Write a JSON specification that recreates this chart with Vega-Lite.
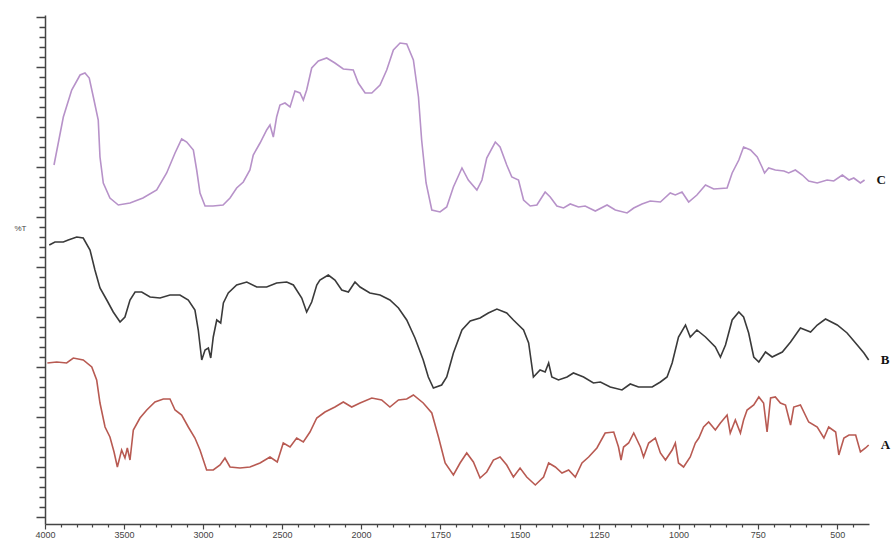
{
  "$schema": "https://vega.github.io/schema/vega-lite/v6.json",
  "autosize": {"type": "none"},
  "padding": {"left": 45, "top": 15, "right": 27, "bottom": 15},
  "width": 824,
  "height": 509,
  "background": "white",
  "config": {"view": {"stroke": null}},
  "data": {"values": [
    {"s":"C","wn":3943,"t":352},{"s":"C","wn":3884,"t":400},{"s":"C","wn":3831,"t":427},{"s":"C","wn":3778,"t":442},{"s":"C","wn":3747,"t":444},{"s":"C","wn":3720,"t":439},{"s":"C","wn":3694,"t":420},{"s":"C","wn":3663,"t":397},{"s":"C","wn":3652,"t":360},{"s":"C","wn":3631,"t":334},{"s":"C","wn":3589,"t":319},{"s":"C","wn":3536,"t":312},{"s":"C","wn":3462,"t":314},{"s":"C","wn":3380,"t":319},{"s":"C","wn":3293,"t":327},{"s":"C","wn":3230,"t":344},{"s":"C","wn":3177,"t":364},{"s":"C","wn":3135,"t":378},{"s":"C","wn":3103,"t":375},{"s":"C","wn":3061,"t":367},{"s":"C","wn":3040,"t":347},{"s":"C","wn":3019,"t":324},{"s":"C","wn":2987,"t":311},{"s":"C","wn":2937,"t":311},{"s":"C","wn":2873,"t":312},{"s":"C","wn":2829,"t":319},{"s":"C","wn":2787,"t":329},{"s":"C","wn":2745,"t":335},{"s":"C","wn":2703,"t":347},{"s":"C","wn":2682,"t":362},{"s":"C","wn":2639,"t":374},{"s":"C","wn":2597,"t":387},{"s":"C","wn":2576,"t":392},{"s":"C","wn":2555,"t":380},{"s":"C","wn":2534,"t":400},{"s":"C","wn":2513,"t":412},{"s":"C","wn":2481,"t":414},{"s":"C","wn":2449,"t":410},{"s":"C","wn":2418,"t":426},{"s":"C","wn":2386,"t":424},{"s":"C","wn":2365,"t":417},{"s":"C","wn":2344,"t":427},{"s":"C","wn":2312,"t":449},{"s":"C","wn":2270,"t":456},{"s":"C","wn":2217,"t":459},{"s":"C","wn":2165,"t":454},{"s":"C","wn":2112,"t":448},{"s":"C","wn":2049,"t":447},{"s":"C","wn":2017,"t":434},{"s":"C","wn":1987,"t":424},{"s":"C","wn":1966,"t":424},{"s":"C","wn":1940,"t":432},{"s":"C","wn":1919,"t":447},{"s":"C","wn":1898,"t":467},{"s":"C","wn":1877,"t":474},{"s":"C","wn":1856,"t":473},{"s":"C","wn":1835,"t":457},{"s":"C","wn":1819,"t":420},{"s":"C","wn":1809,"t":377},{"s":"C","wn":1795,"t":334},{"s":"C","wn":1777,"t":307},{"s":"C","wn":1751,"t":305},{"s":"C","wn":1730,"t":310},{"s":"C","wn":1709,"t":330},{"s":"C","wn":1682,"t":349},{"s":"C","wn":1662,"t":337},{"s":"C","wn":1635,"t":327},{"s":"C","wn":1619,"t":337},{"s":"C","wn":1604,"t":359},{"s":"C","wn":1577,"t":375},{"s":"C","wn":1562,"t":370},{"s":"C","wn":1541,"t":352},{"s":"C","wn":1525,"t":340},{"s":"C","wn":1504,"t":337},{"s":"C","wn":1488,"t":317},{"s":"C","wn":1467,"t":311},{"s":"C","wn":1446,"t":312},{"s":"C","wn":1420,"t":325},{"s":"C","wn":1404,"t":320},{"s":"C","wn":1383,"t":311},{"s":"C","wn":1362,"t":309},{"s":"C","wn":1341,"t":313},{"s":"C","wn":1315,"t":310},{"s":"C","wn":1294,"t":311},{"s":"C","wn":1262,"t":306},{"s":"C","wn":1225,"t":312},{"s":"C","wn":1199,"t":307},{"s":"C","wn":1162,"t":304},{"s":"C","wn":1141,"t":309},{"s":"C","wn":1115,"t":313},{"s":"C","wn":1089,"t":316},{"s":"C","wn":1057,"t":315},{"s":"C","wn":1026,"t":324},{"s":"C","wn":1010,"t":322},{"s":"C","wn":989,"t":325},{"s":"C","wn":968,"t":315},{"s":"C","wn":942,"t":322},{"s":"C","wn":915,"t":332},{"s":"C","wn":889,"t":328},{"s":"C","wn":847,"t":329},{"s":"C","wn":831,"t":344},{"s":"C","wn":810,"t":357},{"s":"C","wn":795,"t":370},{"s":"C","wn":773,"t":367},{"s":"C","wn":752,"t":360},{"s":"C","wn":737,"t":350},{"s":"C","wn":729,"t":344},{"s":"C","wn":716,"t":349},{"s":"C","wn":695,"t":347},{"s":"C","wn":668,"t":346},{"s":"C","wn":653,"t":344},{"s":"C","wn":632,"t":347},{"s":"C","wn":610,"t":342},{"s":"C","wn":590,"t":336},{"s":"C","wn":563,"t":334},{"s":"C","wn":532,"t":337},{"s":"C","wn":511,"t":336},{"s":"C","wn":484,"t":342},{"s":"C","wn":463,"t":337},{"s":"C","wn":448,"t":339},{"s":"C","wn":427,"t":334},{"s":"C","wn":414,"t":337},
    {"s":"B","wn":3973,"t":272},{"s":"B","wn":3937,"t":275},{"s":"B","wn":3884,"t":275},{"s":"B","wn":3853,"t":277},{"s":"B","wn":3799,"t":280},{"s":"B","wn":3758,"t":279},{"s":"B","wn":3715,"t":267},{"s":"B","wn":3684,"t":247},{"s":"B","wn":3652,"t":229},{"s":"B","wn":3609,"t":217},{"s":"B","wn":3568,"t":205},{"s":"B","wn":3525,"t":195},{"s":"B","wn":3494,"t":200},{"s":"B","wn":3462,"t":217},{"s":"B","wn":3430,"t":225},{"s":"B","wn":3388,"t":225},{"s":"B","wn":3335,"t":220},{"s":"B","wn":3272,"t":219},{"s":"B","wn":3209,"t":222},{"s":"B","wn":3146,"t":222},{"s":"B","wn":3093,"t":217},{"s":"B","wn":3051,"t":207},{"s":"B","wn":3030,"t":187},{"s":"B","wn":3008,"t":157},{"s":"B","wn":2987,"t":167},{"s":"B","wn":2966,"t":169},{"s":"B","wn":2951,"t":159},{"s":"B","wn":2935,"t":180},{"s":"B","wn":2913,"t":197},{"s":"B","wn":2888,"t":194},{"s":"B","wn":2871,"t":214},{"s":"B","wn":2840,"t":224},{"s":"B","wn":2787,"t":232},{"s":"B","wn":2723,"t":235},{"s":"B","wn":2660,"t":230},{"s":"B","wn":2597,"t":230},{"s":"B","wn":2534,"t":234},{"s":"B","wn":2470,"t":235},{"s":"B","wn":2428,"t":232},{"s":"B","wn":2375,"t":219},{"s":"B","wn":2344,"t":205},{"s":"B","wn":2312,"t":215},{"s":"B","wn":2280,"t":232},{"s":"B","wn":2260,"t":237},{"s":"B","wn":2207,"t":242},{"s":"B","wn":2165,"t":237},{"s":"B","wn":2122,"t":227},{"s":"B","wn":2080,"t":225},{"s":"B","wn":2038,"t":235},{"s":"B","wn":2006,"t":230},{"s":"B","wn":1972,"t":224},{"s":"B","wn":1940,"t":222},{"s":"B","wn":1909,"t":217},{"s":"B","wn":1882,"t":209},{"s":"B","wn":1856,"t":197},{"s":"B","wn":1830,"t":179},{"s":"B","wn":1804,"t":157},{"s":"B","wn":1788,"t":140},{"s":"B","wn":1772,"t":129},{"s":"B","wn":1746,"t":132},{"s":"B","wn":1730,"t":140},{"s":"B","wn":1709,"t":164},{"s":"B","wn":1682,"t":187},{"s":"B","wn":1656,"t":196},{"s":"B","wn":1625,"t":199},{"s":"B","wn":1599,"t":204},{"s":"B","wn":1572,"t":208},{"s":"B","wn":1541,"t":204},{"s":"B","wn":1520,"t":197},{"s":"B","wn":1488,"t":187},{"s":"B","wn":1472,"t":174},{"s":"B","wn":1457,"t":140},{"s":"B","wn":1436,"t":147},{"s":"B","wn":1420,"t":145},{"s":"B","wn":1409,"t":154},{"s":"B","wn":1399,"t":140},{"s":"B","wn":1378,"t":137},{"s":"B","wn":1351,"t":140},{"s":"B","wn":1331,"t":144},{"s":"B","wn":1299,"t":140},{"s":"B","wn":1268,"t":134},{"s":"B","wn":1246,"t":135},{"s":"B","wn":1215,"t":130},{"s":"B","wn":1178,"t":127},{"s":"B","wn":1152,"t":133},{"s":"B","wn":1126,"t":130},{"s":"B","wn":1083,"t":130},{"s":"B","wn":1057,"t":135},{"s":"B","wn":1036,"t":140},{"s":"B","wn":1020,"t":154},{"s":"B","wn":1000,"t":180},{"s":"B","wn":978,"t":192},{"s":"B","wn":963,"t":180},{"s":"B","wn":942,"t":187},{"s":"B","wn":915,"t":180},{"s":"B","wn":884,"t":170},{"s":"B","wn":868,"t":160},{"s":"B","wn":852,"t":172},{"s":"B","wn":831,"t":197},{"s":"B","wn":810,"t":205},{"s":"B","wn":795,"t":200},{"s":"B","wn":779,"t":184},{"s":"B","wn":763,"t":160},{"s":"B","wn":747,"t":155},{"s":"B","wn":726,"t":165},{"s":"B","wn":705,"t":160},{"s":"B","wn":673,"t":165},{"s":"B","wn":647,"t":175},{"s":"B","wn":616,"t":189},{"s":"B","wn":584,"t":185},{"s":"B","wn":563,"t":192},{"s":"B","wn":537,"t":198},{"s":"B","wn":500,"t":192},{"s":"B","wn":469,"t":184},{"s":"B","wn":437,"t":172},{"s":"B","wn":416,"t":164},{"s":"B","wn":401,"t":157},
    {"s":"A","wn":3985,"t":154},{"s":"A","wn":3926,"t":155},{"s":"A","wn":3863,"t":154},{"s":"A","wn":3821,"t":159},{"s":"A","wn":3758,"t":157},{"s":"A","wn":3704,"t":150},{"s":"A","wn":3673,"t":137},{"s":"A","wn":3652,"t":114},{"s":"A","wn":3620,"t":90},{"s":"A","wn":3589,"t":80},{"s":"A","wn":3563,"t":65},{"s":"A","wn":3542,"t":50},{"s":"A","wn":3515,"t":67},{"s":"A","wn":3494,"t":59},{"s":"A","wn":3479,"t":69},{"s":"A","wn":3462,"t":57},{"s":"A","wn":3441,"t":87},{"s":"A","wn":3399,"t":99},{"s":"A","wn":3356,"t":107},{"s":"A","wn":3304,"t":115},{"s":"A","wn":3251,"t":118},{"s":"A","wn":3209,"t":118},{"s":"A","wn":3177,"t":107},{"s":"A","wn":3135,"t":102},{"s":"A","wn":3093,"t":90},{"s":"A","wn":3051,"t":79},{"s":"A","wn":3019,"t":67},{"s":"A","wn":2977,"t":47},{"s":"A","wn":2935,"t":47},{"s":"A","wn":2892,"t":52},{"s":"A","wn":2861,"t":59},{"s":"A","wn":2829,"t":50},{"s":"A","wn":2766,"t":49},{"s":"A","wn":2703,"t":50},{"s":"A","wn":2639,"t":54},{"s":"A","wn":2576,"t":60},{"s":"A","wn":2530,"t":55},{"s":"A","wn":2492,"t":74},{"s":"A","wn":2449,"t":70},{"s":"A","wn":2407,"t":79},{"s":"A","wn":2365,"t":75},{"s":"A","wn":2323,"t":85},{"s":"A","wn":2280,"t":99},{"s":"A","wn":2228,"t":105},{"s":"A","wn":2165,"t":110},{"s":"A","wn":2112,"t":115},{"s":"A","wn":2059,"t":110},{"s":"A","wn":2006,"t":114},{"s":"A","wn":1966,"t":119},{"s":"A","wn":1935,"t":117},{"s":"A","wn":1909,"t":110},{"s":"A","wn":1882,"t":117},{"s":"A","wn":1856,"t":118},{"s":"A","wn":1835,"t":122},{"s":"A","wn":1804,"t":114},{"s":"A","wn":1777,"t":104},{"s":"A","wn":1756,"t":80},{"s":"A","wn":1735,"t":54},{"s":"A","wn":1709,"t":42},{"s":"A","wn":1688,"t":54},{"s":"A","wn":1667,"t":64},{"s":"A","wn":1646,"t":55},{"s":"A","wn":1625,"t":39},{"s":"A","wn":1604,"t":45},{"s":"A","wn":1583,"t":57},{"s":"A","wn":1562,"t":60},{"s":"A","wn":1541,"t":52},{"s":"A","wn":1520,"t":40},{"s":"A","wn":1499,"t":49},{"s":"A","wn":1478,"t":40},{"s":"A","wn":1451,"t":32},{"s":"A","wn":1425,"t":40},{"s":"A","wn":1409,"t":54},{"s":"A","wn":1388,"t":50},{"s":"A","wn":1367,"t":44},{"s":"A","wn":1346,"t":47},{"s":"A","wn":1325,"t":40},{"s":"A","wn":1304,"t":54},{"s":"A","wn":1283,"t":60},{"s":"A","wn":1257,"t":69},{"s":"A","wn":1231,"t":84},{"s":"A","wn":1204,"t":85},{"s":"A","wn":1189,"t":70},{"s":"A","wn":1181,"t":57},{"s":"A","wn":1173,"t":70},{"s":"A","wn":1157,"t":74},{"s":"A","wn":1141,"t":84},{"s":"A","wn":1120,"t":70},{"s":"A","wn":1110,"t":60},{"s":"A","wn":1094,"t":74},{"s":"A","wn":1073,"t":79},{"s":"A","wn":1057,"t":64},{"s":"A","wn":1041,"t":57},{"s":"A","wn":1020,"t":67},{"s":"A","wn":1010,"t":74},{"s":"A","wn":1000,"t":54},{"s":"A","wn":984,"t":50},{"s":"A","wn":963,"t":60},{"s":"A","wn":947,"t":74},{"s":"A","wn":936,"t":79},{"s":"A","wn":921,"t":90},{"s":"A","wn":905,"t":95},{"s":"A","wn":884,"t":87},{"s":"A","wn":868,"t":94},{"s":"A","wn":847,"t":102},{"s":"A","wn":837,"t":84},{"s":"A","wn":821,"t":97},{"s":"A","wn":805,"t":84},{"s":"A","wn":795,"t":97},{"s":"A","wn":784,"t":107},{"s":"A","wn":763,"t":112},{"s":"A","wn":747,"t":120},{"s":"A","wn":732,"t":114},{"s":"A","wn":721,"t":85},{"s":"A","wn":710,"t":119},{"s":"A","wn":695,"t":120},{"s":"A","wn":679,"t":114},{"s":"A","wn":663,"t":112},{"s":"A","wn":647,"t":92},{"s":"A","wn":637,"t":110},{"s":"A","wn":616,"t":112},{"s":"A","wn":590,"t":95},{"s":"A","wn":563,"t":90},{"s":"A","wn":542,"t":79},{"s":"A","wn":527,"t":90},{"s":"A","wn":505,"t":85},{"s":"A","wn":495,"t":62},{"s":"A","wn":479,"t":79},{"s":"A","wn":463,"t":82},{"s":"A","wn":442,"t":82},{"s":"A","wn":427,"t":65},{"s":"A","wn":411,"t":69},{"s":"A","wn":401,"t":72}
  ]},
  "encoding": {
    "x": {
      "field": "wn", "type": "quantitative",
      "scale": {"domain": [4000, 2000, 400], "range": [0, 316, 824], "nice": false, "zero": false},
      "axis": {
        "title": null,
        "grid": false,
        "values": [4000,3900,3800,3700,3600,3500,3400,3300,3200,3100,3000,2900,2800,2700,2600,2500,2400,2300,2200,2100,2000,1950,1900,1850,1800,1750,1700,1650,1600,1550,1500,1450,1400,1350,1300,1250,1200,1150,1100,1050,1000,950,900,850,800,750,700,650,600,550,500,450],
        "labelExpr": "((datum.value >= 2000 && datum.value % 500 === 0) || (datum.value < 2000 && datum.value % 250 === 0)) ? datum.value : ''",
        "tickSize": {"condition": {"test": "(datum.value >= 2000 && datum.value % 500 === 0) || (datum.value < 2000 && datum.value % 250 === 0)", "value": 5}, "value": 3},
        "tickColor": "#444",
        "tickWidth": 1.2,
        "domainColor": "#444",
        "domainWidth": 1.5,
        "labelFont": "Liberation Sans",
        "labelFontSize": 9,
        "labelColor": "#444",
        "labelPadding": 1,
        "labelFlush": false,
        "labelOverlap": false,
        "labelBound": false
      }
    },
    "y": {
      "field": "t", "type": "quantitative",
      "scale": {"domain": [-7, 502], "nice": false, "zero": false},
      "axis": {
        "title": "%T",
        "titleAngle": 0,
        "titleX": -25,
        "titleY": 213,
        "titleAlign": "center",
        "titleBaseline": "middle",
        "titleFont": "Liberation Sans",
        "titleFontSize": 8,
        "titleFontWeight": "normal",
        "titleColor": "#444",
        "grid": false,
        "labels": false,
        "values": [0,10,20,30,40,50,60,70,80,90,100,110,120,130,140,150,160,170,180,190,200,210,220,230,240,250,260,270,280,290,300,310,320,330,340,350,360,370,380,390,400,410,420,430,440,450,460,470,480,490,500],
        "tickSize": {"condition": {"test": "datum.value % 50 === 0", "value": 9}, "value": 6},
        "tickColor": "#444",
        "tickWidth": 1.5,
        "domainColor": "#444",
        "domainWidth": 1.5
      }
    }
  },
  "layer": [
    {
      "mark": {"type": "line", "strokeWidth": 1.6, "interpolate": "linear", "clip": false},
      "encoding": {
        "color": {
          "field": "s", "type": "nominal",
          "scale": {"domain": ["A", "B", "C"], "range": ["#b85a52", "#3a3a3a", "#b792c9"]},
          "legend": null
        }
      }
    },
    {
      "transform": [
        {"joinaggregate": [{"op": "min", "field": "wn", "as": "mn"}], "groupby": ["s"]},
        {"filter": "datum.wn === datum.mn"}
      ],
      "mark": {"type": "text", "font": "Liberation Serif", "fontWeight": "bold", "fontSize": 13, "align": "left", "baseline": "middle", "dx": 12, "color": "#111", "clip": false},
      "encoding": {
        "text": {"field": "s", "type": "nominal"}
      }
    }
  ]
}
